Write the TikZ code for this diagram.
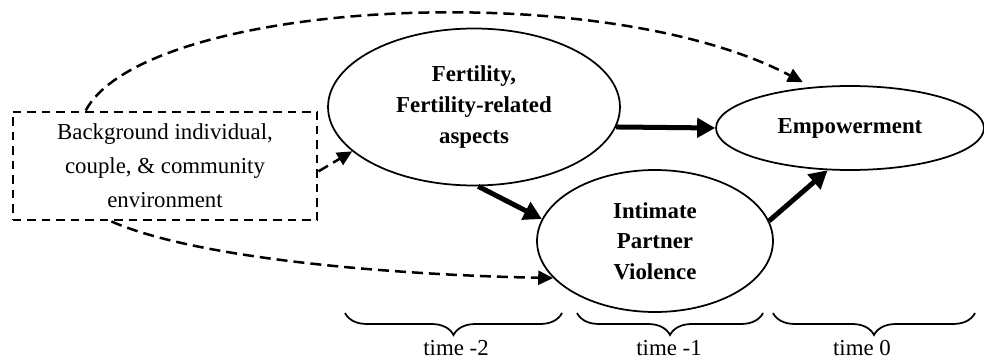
\documentclass[tikz,border=0pt]{standalone}
\usepackage{fontspec}
\setmainfont{Liberation Serif}
\usepackage{tikz}
\usetikzlibrary{shapes.geometric,arrows.meta,decorations.pathreplacing,positioning}
\tikzset
{
    stage/.style      = {ellipse, draw=black, line width=0.035cm, align=center, inner sep=0pt, font=\fontsize{13pt}{17.5pt}\selectfont\bfseries},
    context/.style    = {rectangle, draw=black, line width=0.04cm, dash pattern=on 0.17cm off 0.12cm, align=center, font=\fontsize{13pt}{19.3pt}\selectfont},
    effect/.style     = {-{Triangle[length=0.36cm,width=0.38cm]}, line width=0.1cm},
    spill/.style      = {-{Triangle[length=0.3cm,width=0.28cm]}, line width=0.05cm, dash pattern=on 0.22cm off 0.12cm},
    period/.style     = {decorate, decoration={brace, mirror, amplitude=0.44cm}, line width=0.035cm},
    periodlabel/.style = {anchor=base, inner sep=0pt, font=\fontsize{13pt}{15pt}\selectfont}
}

\begin{document}
\begin{tikzpicture}[x=0.02cm, y=-0.02cm]
    \useasboundingbox (0,0) rectangle (984,358);

    \node [context, minimum width=6.1cm, minimum height=2.18cm] (bg) at (165,166) {Background individual,\\ couple, \& community\\ environment};
    \node [stage, minimum width=5.84cm, minimum height=3.14cm] (fert) at (474,107) {Fertility,\\ Fertility-related\\ aspects};
    \node [stage, minimum width=5.36cm, minimum height=1.68cm] (emp) at (850,128) {Empowerment};
    \node [stage, minimum width=4.72cm, minimum height=2.84cm] (ipv) at (655,241) {Intimate\\ Partner\\ Violence};

    % main paths
    \draw [effect] (fert.-8) -- (emp.west);
    \draw [effect] (fert.-87) -- (ipv.169);
    \draw [effect] (ipv.10) -- (emp.-118);

    % background influences
    \draw [spill] (bg.-2) -- (fert.200);
    \draw [spill, shorten >=0.2cm] (bg.145) .. controls (145,0) and (600,-25) .. (emp.133);
    \draw [spill] (bg.-134) .. controls (200,260) and (400,275) .. (ipv.-160);

    % time periods
    \coordinate (p2l) at (345,313);
    \coordinate (p2r) at (562,313);
    \coordinate (p1l) at (577,313);
    \coordinate (p1r) at (763,313);
    \coordinate (p0l) at (773,313);
    \coordinate (p0r) at (975,313);
    \draw [period] (p2l) -- (p2r);
    \draw [period] (p1l) -- (p1r);
    \draw [period] (p0l) -- (p0r);
    \node [periodlabel] (t2) at (456,355) {time -2};
    \node [periodlabel] (t1) at (669,355) {time -1};
    \node [periodlabel] (t0) at (862,355) {time 0};
\end{tikzpicture}
\end{document}
